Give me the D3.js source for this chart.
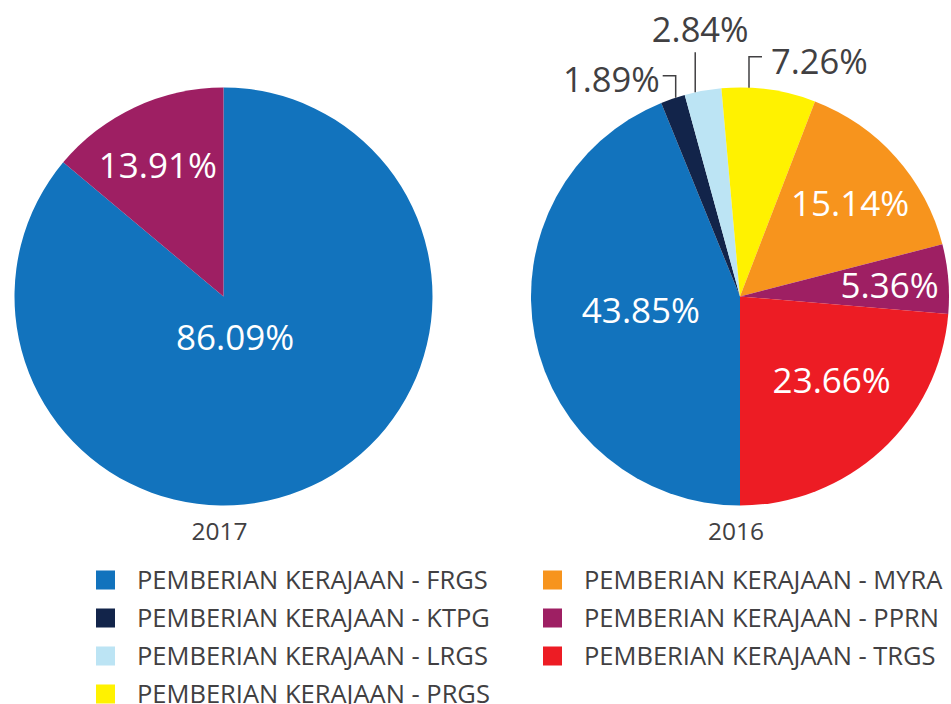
<!DOCTYPE html>
<html>
<head>
<meta charset="utf-8">
<script src="https://cdn.jsdelivr.net/npm/d3@7"></script>
<style>
  body { margin: 0; background: #fff; }
  text { font-family: "Open Sans", sans-serif; }
</style>
</head>
<body>
<div id="chart"></div>
<script>
// categories, in legend / slice order
var categories = ["FRGS", "KTPG", "LRGS", "PRGS", "MYRA", "PPRN", "TRGS"];
var colours = ["#1273bd", "#12244a", "#bce4f4", "#fff200", "#f7941d", "#9e1f63", "#ed1c24"];
var legendPrefix = "PEMBERIAN KERAJAAN - ";

var years = ["2017", "2016"];
var values2017 = [86.09, 0, 0, 0, 0, 13.91, 0];
var values2016 = [43.85, 1.89, 2.84, 7.26, 15.14, 5.36, 23.66];

var W = 951, H = 704;
var R = 209;

var svg = d3.select("#chart").append("svg")
    .attr("width", W)
    .attr("height", H);

var colour = d3.scaleOrdinal().domain(categories).range(colours);

var arc = d3.arc().innerRadius(0).outerRadius(R);

// label placement: fraction along slice (t) and radius, or outside with leader
var inside2017 = { FRGS: { t: 0.53, r: 43 }, PPRN: { t: 0.47, r: 147 } };
var inside2016 = {
    FRGS: { t: 0.52, r: 100 },
    MYRA: { t: 0.53, r: 144 },
    PPRN: { t: 0.52, r: 150 },
    TRGS: { t: 0.44, r: 124 }
};
var outside2016 = {
    KTPG: { t: 0.62, path: [[0, -22], [-13, -22]], tx: -16, ty: -6, anchor: "end" },
    LRGS: { t: 0.29, path: [[0, -40]], tx: 5, ty: -50, anchor: "middle" },
    PRGS: { t: 0.29, path: [[0, -31], [13, -31]], tx: 22, ty: -14, anchor: "start" }
};

function fmt(v) { return v.toFixed(2) + "%"; }

function drawPie(cx, cy, values, startAngle, inside, outside, year) {
    var data = categories.map((c, i) => ({ name: c, value: values[i] }))
        .filter(d => d.value > 0);

    var pie = d3.pie()
        .sort(null)
        .value(d => d.value)
        .startAngle(startAngle)
        .endAngle(startAngle + 2 * Math.PI);

    var arcs = pie(data);

    var g = svg.append("g")
        .attr("transform", "translate(" + cx + "," + cy + ")");

    g.selectAll("path.slice")
        .data(arcs)
        .enter()
        .append("path")
        .attr("class", "slice")
        .attr("d", arc)
        .attr("fill", d => colour(d.data.name));

    function pointAt(d, t, r) {
        var a = d.startAngle + t * (d.endAngle - d.startAngle);
        return [r * Math.sin(a), -r * Math.cos(a)];
    }

    // inside labels
    g.selectAll("text.inner")
        .data(arcs.filter(d => inside[d.data.name]))
        .enter()
        .append("text")
        .attr("class", "inner")
        .attr("transform", d => {
            var p = inside[d.data.name];
            var xy = pointAt(d, p.t, p.r);
            return "translate(" + xy[0] + "," + xy[1] + ")";
        })
        .attr("text-anchor", "middle")
        .attr("dy", "0.36em")
        .attr("fill", "#fff")
        .style("font-size", "35px")
        .text(d => fmt(d.data.value));

    // outside labels with leader lines
    var out = arcs.filter(d => outside[d.data.name]);
    g.selectAll("polyline.leader")
        .data(out)
        .enter()
        .append("polyline")
        .attr("class", "leader")
        .attr("fill", "none")
        .attr("stroke", "#414042")
        .attr("stroke-width", 1.5)
        .attr("points", d => {
            var o = outside[d.data.name];
            var p = pointAt(d, o.t, R);
            var pts = [p].concat(o.path.map(q => [p[0] + q[0], p[1] + q[1]]));
            return pts.map(q => q.join(",")).join(" ");
        });

    g.selectAll("text.outer")
        .data(out)
        .enter()
        .append("text")
        .attr("class", "outer")
        .attr("x", d => pointAt(d, outside[d.data.name].t, R)[0] + outside[d.data.name].tx)
        .attr("y", d => pointAt(d, outside[d.data.name].t, R)[1] + outside[d.data.name].ty)
        .attr("text-anchor", d => outside[d.data.name].anchor)
        .attr("fill", "#414042")
        .style("font-size", "34.5px")
        .text(d => fmt(d.data.value));

    g.append("text")
        .attr("x", -4)
        .attr("y", R + 34.5)
        .attr("text-anchor", "middle")
        .attr("fill", "#414042")
        .style("font-size", "24.5px")
        .text(year);
}

drawPie(223.5, 296.5, values2017, 0, inside2017, {}, years[0]);
drawPie(740, 296.5, values2016, Math.PI, inside2016, outside2016, years[1]);

// legend, two columns filled top to bottom
var legendCols = [96, 543];
var legendTop = 580;
var rowH = 38;

var legend = svg.append("g")
    .selectAll("g")
    .data(categories)
    .enter()
    .append("g")
    .attr("transform", (d, i) => {
        var col = i < 4 ? 0 : 1;
        var row = i < 4 ? i : i - 4;
        return "translate(" + legendCols[col] + "," + (legendTop + row * rowH) + ")";
    });

legend.append("rect")
    .attr("x", 0)
    .attr("y", -9.5)
    .attr("width", 19)
    .attr("height", 19)
    .attr("fill", d => colour(d));

legend.append("text")
    .attr("x", 41)
    .attr("y", 0)
    .attr("dy", "0.36em")
    .attr("fill", "#414042")
    .style("font-size", "25.5px")
    .text(d => legendPrefix + d);
</script>
</body>
</html>
